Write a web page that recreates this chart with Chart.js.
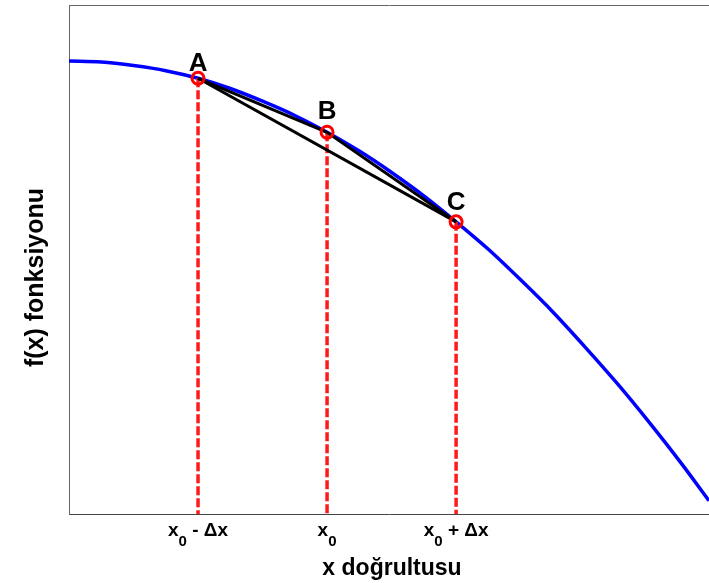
<!DOCTYPE html>
<html>
<head>
<meta charset="utf-8">
<script src="https://cdn.jsdelivr.net/npm/chart.js@4.4.1/dist/chart.umd.min.js"></script>
<style>
    html, body { margin: 0; padding: 0; background: #fff; }
    #wrap { width: 709px; height: 583px; }
</style>
</head>
<body>
<div id="wrap"><canvas id="chart"></canvas></div>
<script>
// Curva f(x)
const curveX = [0, 0.5, 1, 1.5, 2, 2.5, 3, 3.5, 4, 4.5, 5, 5.5, 6, 6.5, 7, 7.5, 8, 8.5, 9, 9.5, 9.92];
const curveY = [8.90, 8.88, 8.81, 8.71, 8.56, 8.36, 8.11, 7.83, 7.50, 7.13, 6.71, 6.25, 5.74, 5.20, 4.60, 3.97, 3.28, 2.56, 1.79, 0.98, 0.26];

// Puntos A, B, C
const pointNames = ['A', 'B', 'C'];
const pointX = [2, 4, 6];
const pointY = [8.56, 7.50, 5.74];

// Etiquetas del eje x (base, subíndice, resto)
const tickValues = [2, 4, 6];
const tickLabels = [['x', '0', ' - Δx'], ['x', '0', ''], ['x', '0', ' + Δx']];

const xTitle = 'x doğrultusu';
const yTitle = 'f(x) fonksiyonu';

const FONT = '"Liberation Sans", Arial, Helvetica, sans-serif';
const labelLift = [7, 13, 12];

const xy = (xs, ys) => xs.map((x, i) => ({ x: x, y: ys[i] }));

// Líneas rojas verticales
const dropLines = pointX.map((x, i) => ({
    data: [{ x: x, y: pointY[i] }, { x: x, y: 0 }],
    borderColor: '#ff1a1a',
    borderWidth: 3.5,
    borderDash: [9, 3],
    pointRadius: 0,
    showLine: true
}));

// Texto: letras, etiquetas de ticks y títulos
const textPlugin = {
    id: 'texts',
    afterDatasetsDraw(chart) {
        const { ctx, chartArea, scales } = chart;
        const xs = scales.x, ys = scales.y;
        ctx.save();
        ctx.fillStyle = '#000';
        ctx.textBaseline = 'alphabetic';

        ctx.font = 'bold 26px ' + FONT;
        ctx.textAlign = 'center';
        pointNames.forEach((n, i) => {
            const px = xs.getPixelForValue(pointX[i]);
            const py = ys.getPixelForValue(pointY[i]);
            ctx.fillText(n, px, py - labelLift[i]);
        });

        const mainFont = 'bold 19px ' + FONT;
        const subFont = 'bold 15px ' + FONT;
        ctx.textAlign = 'left';
        tickValues.forEach((v, i) => {
            const [a, s, b] = tickLabels[i];
            ctx.font = mainFont;
            const wa = ctx.measureText(a).width;
            const wb = ctx.measureText(b).width;
            ctx.font = subFont;
            const ws = ctx.measureText(s).width;
            let x = xs.getPixelForValue(v) - (wa + ws + wb) / 2;
            const base = chartArea.bottom + 22;
            ctx.font = mainFont;
            ctx.fillText(a, x, base);
            ctx.font = subFont;
            ctx.fillText(s, x + wa, base + 10);
            ctx.font = mainFont;
            ctx.fillText(b, x + wa + ws, base);
        });

        ctx.font = 'bold 23px ' + FONT;
        ctx.textAlign = 'center';
        ctx.fillText(xTitle, (chartArea.left + chartArea.right) / 2 + 3, chartArea.bottom + 61);

        ctx.translate(chartArea.left - 33, (chartArea.top + chartArea.bottom) / 2 + 18);
        ctx.rotate(-Math.PI / 2);
        ctx.font = 'bold 25px ' + FONT;
        ctx.textBaseline = 'middle';
        ctx.fillText(yTitle, 0, 0);
        ctx.restore();
    }
};

new Chart(document.getElementById('chart'), {
    type: 'scatter',
    data: {
        datasets: [
            {
                data: xy(pointX, pointY),
                borderColor: '#ff0000',
                backgroundColor: 'rgba(0,0,0,0)',
                borderWidth: 3,
                pointRadius: 6,
                showLine: false
            },
            {
                data: xy(pointX, pointY),
                borderColor: '#000',
                borderWidth: 3,
                pointRadius: 0,
                showLine: true
            },
            {
                data: [{ x: pointX[0], y: pointY[0] }, { x: pointX[2], y: pointY[2] }],
                borderColor: '#000',
                borderWidth: 3,
                pointRadius: 0,
                showLine: true
            },
            ...dropLines,
            {
                data: xy(curveX, curveY),
                borderColor: '#0000ff',
                borderWidth: 3.5,
                pointRadius: 0,
                showLine: true,
                cubicInterpolationMode: 'monotone'
            }
        ]
    },
    options: {
        responsive: true,
        maintainAspectRatio: false,
        animation: false,
        events: [],
        layout: { autoPadding: false, padding: { left: 69, top: 5, right: 0, bottom: 69 } },
        plugins: {
            legend: { display: false },
            tooltip: { enabled: false }
        },
        scales: {
            x: {
                type: 'linear',
                min: 0,
                max: 9.92,
                grid: { display: false, drawTicks: false },
                border: { display: true, color: '#444', width: 1 },
                ticks: { display: false }
            },
            xTop: {
                type: 'linear',
                position: 'top',
                min: 0,
                max: 9.92,
                grid: { display: false, drawTicks: false },
                border: { display: true, color: '#666', width: 1 },
                ticks: { display: false }
            },
            y: {
                type: 'linear',
                min: 0,
                max: 10,
                grid: { display: false, drawTicks: false },
                border: { display: true, color: '#666', width: 1 },
                ticks: { display: false }
            }
        }
    },
    plugins: [textPlugin]
});
</script>
</body>
</html>
